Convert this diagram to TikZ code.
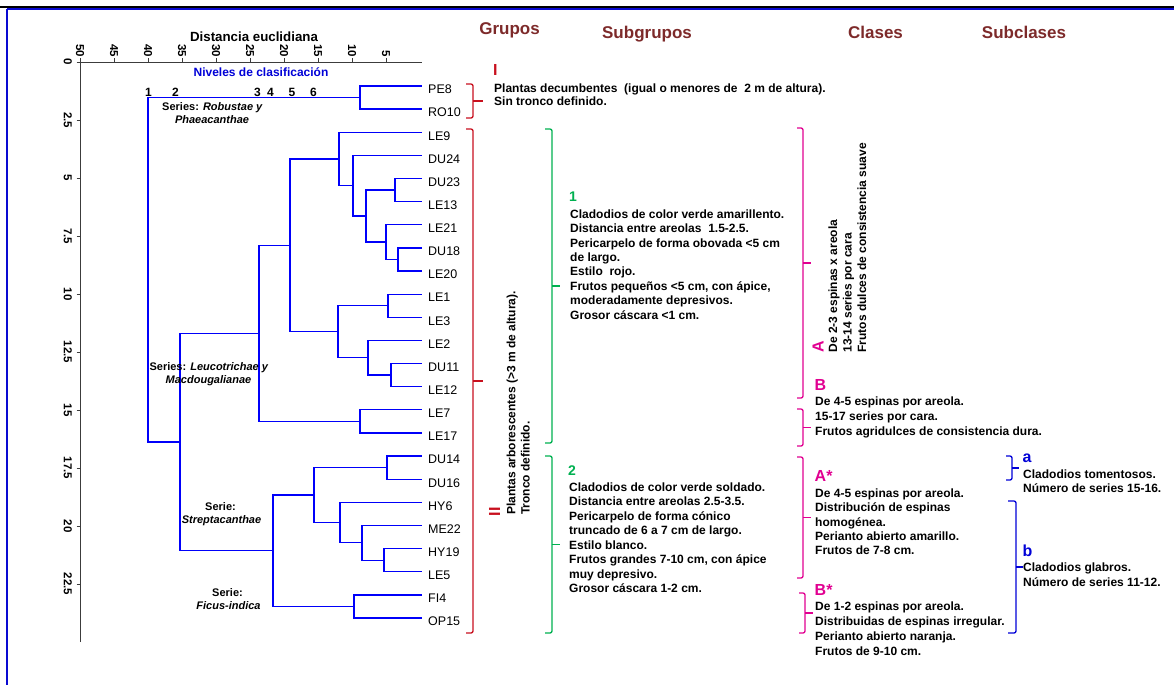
\documentclass[tikz,border=0pt]{standalone}
\usepackage{fontspec}
\setmainfont{Liberation Sans}
\definecolor{dendblue}{RGB}{0,0,250}
\definecolor{frameblue}{RGB}{10,10,210}
\definecolor{lblblue}{RGB}{0,0,215}
\definecolor{hdrbrown}{RGB}{125,42,42}
\definecolor{grpred}{RGB}{200,16,30}
\definecolor{sgreen}{RGB}{0,176,80}
\definecolor{cmag}{RGB}{225,0,145}
\definecolor{axgray}{RGB}{60,60,60}
\newcommand\mybrk[6]{%
  \draw[brkt,#1] ({#2-#5},#3) -- (#2,#3) -- (#2,#4) -- ({#2-#5},#4);
  \draw[brkt,#1] (#2,{(#3+#4)/2}) -- ({#2+#6},{(#3+#4)/2});}
\begin{document}
\begin{tikzpicture}[x=1pt,y=-1pt,
  dendro/.style={draw=dendblue,line width=1.3pt},
  axln/.style={draw=axgray,line width=0.9pt},
  brkt/.style={line width=1.3pt,rounded corners=2pt},
  leaflab/.style={font=\fontsize{12.5}{14}\selectfont,inner sep=0,anchor=base west},
  txt/.style={font=\fontsize{12}{14}\selectfont\bfseries,inner sep=0,anchor=base west},
  rtxt/.style={txt,rotate=90},
  ticklab/.style={font=\fontsize{11.5}{13}\selectfont\bfseries,inner sep=0,rotate=-90},
  hdr/.style={font=\fontsize{17}{19}\selectfont\bfseries,text=hdrbrown,inner sep=0,anchor=base},
  lvlnum/.style={font=\fontsize{12}{14}\selectfont\bfseries,inner sep=0,anchor=base},
  serlab/.style={font=\fontsize{11}{12}\selectfont\bfseries,inner sep=0,anchor=base},
  biglab/.style={font=\fontsize{16}{18}\selectfont\bfseries,inner sep=0,anchor=base west}]
\useasboundingbox (0,0) rectangle (1174,685);
% frame
\draw[line width=1.8pt,black] (0,6.8) -- (1174,6.8);
\draw[line width=1.7pt,frameblue] (7,8.8) -- (1174,8.8);
\draw[line width=1.8pt,frameblue] (7,8.8) -- (7,685);
% axes
\draw[axln] (80,642) -- (80,62) -- (422,62);
\foreach \d in {50,45,...,5}{
  \draw[axln] ({80+(50-\d)*6.8},62) -- ({80+(50-\d)*6.8},58.5);
  \node[ticklab,anchor=east] (tx\d) at ({80+(50-\d)*6.8},57.5) {\d};
}
\foreach \v [count=\k from 0] in {0,2.5,5,7.5,10,12.5,15,17.5,20,22.5}{
  \draw[axln] (76.5,{62+58*\k}) -- (80,{62+58*\k});
  \node[ticklab,anchor=north] (ty\k) at (72,{62+58*\k}) {\v};
}
\node[font=\fontsize{13.3}{15}\selectfont\bfseries,inner sep=0,anchor=base] (xtitle) at (254,41.2) {Distancia euclidiana};
\node[font=\fontsize{12}{14}\selectfont\bfseries,text=lblblue,inner sep=0,anchor=base] (niv) at (261,76) {Niveles de clasificación};
% level numbers
\node[lvlnum] (lv1) at (148.5,96) {1};
\node[lvlnum] (lv2) at (175.5,96) {2};
\node[lvlnum] (lv3) at (257.5,96) {3};
\node[lvlnum] (lv4) at (270.5,96) {4};
\node[lvlnum] (lv5) at (292,96) {5};
\node[lvlnum] (lv6) at (313.5,96) {6};
% leaves
\foreach \n [count=\i from 0] in {PE8,RO10,LE9,DU24,DU23,LE13,LE21,DU18,LE20,LE1,LE3,LE2,DU11,LE12,LE7,LE17,DU14,DU16,HY6,ME22,HY19,LE5,FI4,OP15}{
  \coordinate (\n) at (422,{86+23.13*\i});
  \node[leaflab] (t\n) at (428,{86+23.13*\i+7.8}) {\n};
}
% merge points
\coordinate (mA) at (360,97.57);
\coordinate (m1) at (395,190.09);
\coordinate (m2) at (398,259.48);
\coordinate (m3) at (386,242.13);
\coordinate (m4) at (366,216.11);
\coordinate (m5) at (353,185.75);
\coordinate (m6) at (339,159.0);
\coordinate (m7) at (388,305.74);
\coordinate (m8) at (391,375.13);
\coordinate (m9) at (368,357.78);
\coordinate (m10) at (338,331.76);
\coordinate (m11) at (290,245.38);
\coordinate (m12) at (360,421.39);
\coordinate (m13) at (259,333.38);
\coordinate (m14) at (387,467.65);
\coordinate (m15) at (384,560.17);
\coordinate (m16) at (362,542.82);
\coordinate (m17) at (340,522.58);
\coordinate (m18) at (314,495.11);
\coordinate (m19) at (354,606.43);
\coordinate (m20) at (273,550.77);
\coordinate (m21) at (180,442.08);
\coordinate (root) at (148,269.8);
\draw[dendro] (mA) |- (PE8) (mA) |- (RO10);
\draw[dendro] (m1) |- (DU23) (m1) |- (LE13);
\draw[dendro] (m2) |- (DU18) (m2) |- (LE20);
\draw[dendro] (m3) |- (LE21) (m3) |- (m2);
\draw[dendro] (m4) |- (m1) (m4) |- (m3);
\draw[dendro] (m5) |- (DU24) (m5) |- (m4);
\draw[dendro] (m6) |- (LE9) (m6) |- (m5);
\draw[dendro] (m7) |- (LE1) (m7) |- (LE3);
\draw[dendro] (m8) |- (DU11) (m8) |- (LE12);
\draw[dendro] (m9) |- (LE2) (m9) |- (m8);
\draw[dendro] (m10) |- (m7) (m10) |- (m9);
\draw[dendro] (m11) |- (m6) (m11) |- (m10);
\draw[dendro] (m12) |- (LE7) (m12) |- (LE17);
\draw[dendro] (m13) |- (m11) (m13) |- (m12);
\draw[dendro] (m14) |- (DU14) (m14) |- (DU16);
\draw[dendro] (m15) |- (HY19) (m15) |- (LE5);
\draw[dendro] (m16) |- (ME22) (m16) |- (m15);
\draw[dendro] (m17) |- (HY6) (m17) |- (m16);
\draw[dendro] (m18) |- (m14) (m18) |- (m17);
\draw[dendro] (m19) |- (FI4) (m19) |- (OP15);
\draw[dendro] (m20) |- (m18) (m20) |- (m19);
\draw[dendro] (m21) |- (m13) (m21) |- (m20);
\draw[dendro] (root) |- (mA) (root) |- (m21);
% series labels
\node[serlab] (s1a) at (212.5,110.5) {Series: \textit{Robustae y}};
\node[serlab] (s1b) at (212,123) {\textit{Phaeacanthae}};
\node[serlab] (s2a) at (209,370.5) {Series: \textit{Leucotrichae y}};
\node[serlab] (s2b) at (208.5,383.5) {\textit{Macdougalianae}};
\node[serlab] (s3a) at (220.5,510) {Serie:};
\node[serlab] (s3b) at (221.5,523) {\textit{Streptacanthae}};
\node[serlab] (s4a) at (227.5,596.7) {Serie:};
\node[serlab] (s4b) at (228.5,609.3) {\textit{Ficus-indica}};
% headers
\node[hdr] (hG) at (509.5,35) {Grupos};
\node[hdr] (hS) at (647,38.3) {Subgrupos};
\node[hdr] (hC) at (875.5,38.5) {Clases};
\node[hdr] (hSC) at (1024,38.5) {Subclases};
% brackets
\mybrk{grpred}{473}{84}{118}{7}{10}
\mybrk{grpred}{473}{129}{633}{7}{10}
\mybrk{sgreen}{552}{129}{443}{7}{8}
\mybrk{sgreen}{552}{456}{633}{7}{8}
\mybrk{cmag}{803}{128}{398}{6}{8}
\mybrk{cmag}{803}{409}{446}{6}{8}
\mybrk{cmag}{803}{457}{578}{6}{8}
\mybrk{cmag}{805}{593}{633}{6}{8}
\mybrk{lblblue}{1012}{456}{480}{6}{7}
\mybrk{lblblue}{1016}{501}{633}{8}{7}
% group I
\node[biglab,text=grpred] (gI) at (493,75) {I};
\node[txt] (gIa) at (494,92.7) {Plantas decumbentes\ \ (igual o menores de\ \ 2 m de altura).};
\node[txt] (gIb) at (494,105) {Sin tronco definido.};
% group II
\node[biglab,text=grpred,rotate=90] (gII) at (500,516.5) {II};
\node[rtxt] (gIIa) at (515.3,515) {Plantas arborescentes (>3 m de altura).};
\node[rtxt] (gIIb) at (529.5,515) {Tronco definido.};
% subgroup 1
\node[font=\fontsize{14}{16}\selectfont\bfseries,text=sgreen,inner sep=0,anchor=base west] (sg1) at (569,201.7) {1};
\foreach \xtxt [count=\i from 0] in {Cladodios de color verde amarillento.,Distancia entre areolas\ \ 1.5-2.5.,Pericarpelo de forma obovada <5 cm,de largo.,Estilo\ \ rojo.,{Frutos pequeños <5 cm, con ápice,},moderadamente depresivos.,Grosor cáscara <1 cm.}{
  \node[txt] (sga\i) at (570,{218.3+14.4*\i}) {\xtxt};
}
% subgroup 2
\node[font=\fontsize{14}{16}\selectfont\bfseries,text=sgreen,inner sep=0,anchor=base west] (sg2) at (568,475) {2};
\foreach \xtxt [count=\i from 0] in {Cladodios de color verde soldado.,Distancia entre areolas 2.5-3.5.,Pericarpelo de forma cónico,truncado de 6 a 7 cm de largo.,Estilo blanco.,{Frutos grandes 7-10 cm, con ápice},muy depresivo.,Grosor cáscara 1-2 cm.}{
  \node[txt] (sgb\i) at (569,{491.5+14.46*\i}) {\xtxt};
}
% class A
\node[biglab,text=cmag,rotate=90] (cA) at (823.5,352.5) {A};
\node[rtxt] (cAa) at (837,352.7) {De 2-3 espinas x areola};
\node[rtxt] (cAb) at (851.5,352.7) {13-14 series por cara};
\node[rtxt] (cAc) at (866,352.7) {Frutos dulces de consistencia suave};
% class B
\node[biglab,text=cmag] (cB) at (814.5,390) {B};
\foreach \xtxt [count=\i from 0] in {De 4-5 espinas por areola.,15-17 series por cara.,Frutos agridulces de consistencia dura.}{
  \node[txt] (cBl\i) at (815,{405+15*\i}) {\xtxt};
}
% class A*
\node[biglab,text=cmag] (cAs) at (814.5,481.7) {A*};
\foreach \xtxt [count=\i from 0] in {De 4-5 espinas por areola.,Distribución de espinas,homogénea.,Perianto abierto amarillo.,Frutos de 7-8 cm.}{
  \node[txt] (cAsl\i) at (815,{497.3+14.4*\i}) {\xtxt};
}
% class B*
\node[biglab,text=cmag] (cBs) at (814.5,595) {B*};
\foreach \xtxt [count=\i from 0] in {De 1-2 espinas por areola.,Distribuidas de espinas irregular.,Perianto abierto naranja.,Frutos de 9-10 cm.}{
  \node[txt] (cBsl\i) at (815,{610+15*\i}) {\xtxt};
}
% subclasses
\node[biglab,text=lblblue] (sca) at (1022.5,462) {a};
\node[txt] (scaa) at (1023,478.3) {Cladodios tomentosos.};
\node[txt] (scab) at (1023,492.3) {Número de series 15-16.};
\node[biglab,text=lblblue] (scb) at (1022.5,556.7) {b};
\node[txt] (scba) at (1023,571.7) {Cladodios glabros.};
\node[txt] (scbb) at (1023,586.7) {Número de series 11-12.};
\end{tikzpicture}
\end{document}
